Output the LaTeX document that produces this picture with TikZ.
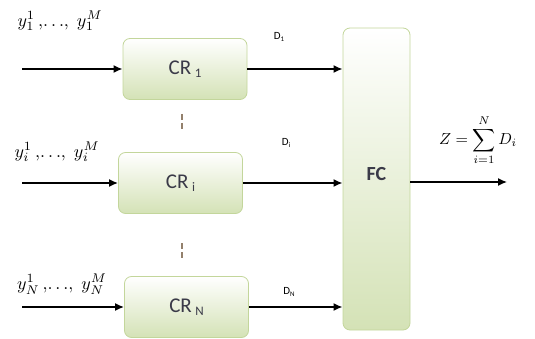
\documentclass[tikz,border=0pt]{standalone}
\usepackage{graphicx}
\usepackage{fontspec}
\setsansfont{Carlito}
\usetikzlibrary{arrows.meta}
\usetikzlibrary{shadings}

\definecolor{boxline}{HTML}{C3D69B}
\definecolor{boxgreen}{HTML}{D4E2B6}
\definecolor{crtext}{HTML}{3A3A48}
\tikzset{
    crbox/.style={draw=boxline, line width=0.8pt, rounded corners=7pt,
        top color=white, bottom color=boxgreen, minimum width=124pt,
        minimum height=61pt, text=crtext, font=\sffamily\fontsize{21}{21}\selectfont},
    sig/.style={line width=1.7pt, -{Latex[length=9pt,width=8pt]}},
    dlabel/.style={font=\sffamily\fontsize{11}{11}\selectfont},
}

\begin{document}
\begin{tikzpicture}[x=1pt,y=-1pt]
    \useasboundingbox (0,0) rectangle (535,339);
    % le centre de fusion
    \node[crbox, minimum width=67pt, minimum height=302pt,
        font=\sffamily\bfseries\fontsize{20}{20}\selectfont] (fc) at (376.5,179) {\raisebox{11pt}{FC}};
    \foreach \x/\y/\s/\lx/\ly/\dx/\dy [count=\n] in
        {185/69/1/60/21/279/37, 180.5/183/i/57/152/286/143, 186.5/307/N/62/284/289/292}{
            % une branche : entree, detecteur, sortie vers FC
            \node[crbox] (cr\n) at (\x,\y) {CR\,\raisebox{-3pt}{\fontsize{13}{13}\selectfont\s}};
            \coordinate (in\n) at (22,\y);
            \draw[sig] (in\n) -- (cr\n.west);
            \draw[sig] (cr\n.east) -- (cr\n.east -| fc.west);
            \node[inner sep=1pt] (y\n) at (\lx,\ly) {\scalebox{1.8}{$y_{\s}^{1}\,,\!\ldots\!,\;y_{\s}^{M}$}};
            \node[dlabel] (d\n) at (\dx,\dy) {D\raisebox{-2pt}{\fontsize{7}{7}\selectfont\s}};
        }
    % points de suspension verticaux
    \draw[color=gray!70!brown, line width=1.5pt, dash pattern=on 6pt off 3pt]
        (182,114) -- (182,130) (182,243) -- (182,259);
    \coordinate (out) at (507,182);
    \draw[sig, line width=1.4pt] (fc.east |- out) -- (out);
    \node[inner sep=1pt] (z) at (478,140) {\scalebox{1.6}{$Z=\displaystyle\sum_{i=1}^{N} D_{i}$}};
\end{tikzpicture}
\end{document}
